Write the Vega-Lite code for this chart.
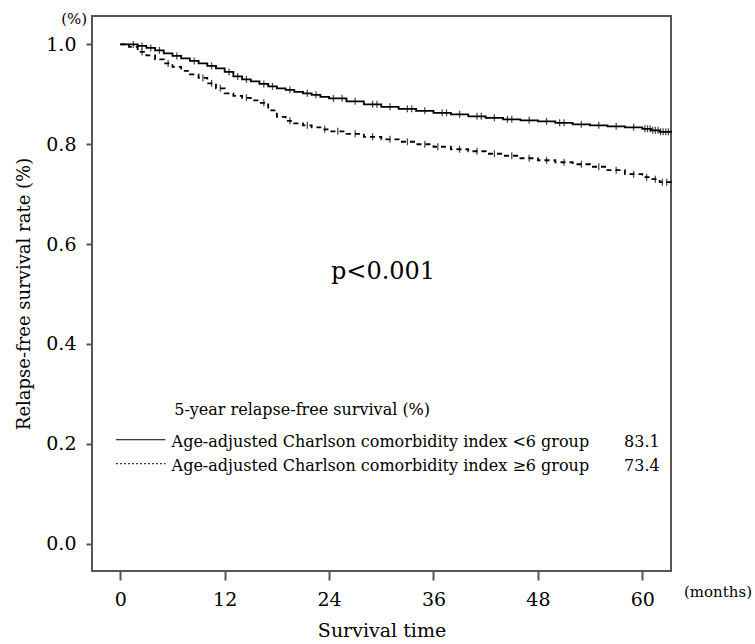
{
  "$schema": "https://vega.github.io/schema/vega-lite/v6.json",
  "width": 579,
  "height": 555,
  "autosize": "none",
  "padding": {"left": 92, "top": 16, "right": 84, "bottom": 73},
  "background": "white",
  "config": {
    "view": {"stroke": "#555555", "strokeWidth": 2},
    "font": "DejaVu Serif",
    "axis": {"grid": false, "domain": false, "tickColor": "#555555", "tickWidth": 2, "labelColor": "black", "titleColor": "black", "labelFont": "DejaVu Serif", "titleFont": "DejaVu Serif", "titleFontWeight": "normal"}
  },
  "datasets": {
    "curves": [
      {"group": "lt6", "month": 0, "rate": 1.0},
      {"group": "lt6", "month": 1, "rate": 1.0},
      {"group": "lt6", "month": 2, "rate": 0.997},
      {"group": "lt6", "month": 3, "rate": 0.993},
      {"group": "lt6", "month": 4, "rate": 0.988},
      {"group": "lt6", "month": 5, "rate": 0.982},
      {"group": "lt6", "month": 6, "rate": 0.977},
      {"group": "lt6", "month": 7, "rate": 0.972},
      {"group": "lt6", "month": 8, "rate": 0.967},
      {"group": "lt6", "month": 9, "rate": 0.962},
      {"group": "lt6", "month": 10, "rate": 0.957},
      {"group": "lt6", "month": 11, "rate": 0.952},
      {"group": "lt6", "month": 12, "rate": 0.945},
      {"group": "lt6", "month": 13, "rate": 0.936},
      {"group": "lt6", "month": 14, "rate": 0.930},
      {"group": "lt6", "month": 15, "rate": 0.926},
      {"group": "lt6", "month": 16, "rate": 0.921},
      {"group": "lt6", "month": 17, "rate": 0.916},
      {"group": "lt6", "month": 18, "rate": 0.912},
      {"group": "lt6", "month": 19, "rate": 0.909},
      {"group": "lt6", "month": 20, "rate": 0.905},
      {"group": "lt6", "month": 21, "rate": 0.902},
      {"group": "lt6", "month": 22, "rate": 0.899},
      {"group": "lt6", "month": 23, "rate": 0.895},
      {"group": "lt6", "month": 24, "rate": 0.892},
      {"group": "lt6", "month": 26, "rate": 0.886},
      {"group": "lt6", "month": 28, "rate": 0.880},
      {"group": "lt6", "month": 30, "rate": 0.875},
      {"group": "lt6", "month": 32, "rate": 0.871},
      {"group": "lt6", "month": 34, "rate": 0.867},
      {"group": "lt6", "month": 36, "rate": 0.863},
      {"group": "lt6", "month": 38, "rate": 0.860},
      {"group": "lt6", "month": 40, "rate": 0.856},
      {"group": "lt6", "month": 42, "rate": 0.853},
      {"group": "lt6", "month": 44, "rate": 0.850},
      {"group": "lt6", "month": 46, "rate": 0.848},
      {"group": "lt6", "month": 48, "rate": 0.846},
      {"group": "lt6", "month": 50, "rate": 0.843},
      {"group": "lt6", "month": 52, "rate": 0.840},
      {"group": "lt6", "month": 54, "rate": 0.838},
      {"group": "lt6", "month": 56, "rate": 0.836},
      {"group": "lt6", "month": 58, "rate": 0.834},
      {"group": "lt6", "month": 60, "rate": 0.831},
      {"group": "lt6", "month": 61, "rate": 0.828},
      {"group": "lt6", "month": 62, "rate": 0.825},
      {"group": "lt6", "month": 63.3, "rate": 0.823},
      {"group": "ge6", "month": 0, "rate": 1.0},
      {"group": "ge6", "month": 1, "rate": 0.995},
      {"group": "ge6", "month": 2, "rate": 0.985},
      {"group": "ge6", "month": 3, "rate": 0.978},
      {"group": "ge6", "month": 4, "rate": 0.970},
      {"group": "ge6", "month": 5, "rate": 0.962},
      {"group": "ge6", "month": 6, "rate": 0.955},
      {"group": "ge6", "month": 7, "rate": 0.947},
      {"group": "ge6", "month": 8, "rate": 0.940},
      {"group": "ge6", "month": 9, "rate": 0.933},
      {"group": "ge6", "month": 10, "rate": 0.922},
      {"group": "ge6", "month": 11, "rate": 0.912},
      {"group": "ge6", "month": 12, "rate": 0.902},
      {"group": "ge6", "month": 13, "rate": 0.897},
      {"group": "ge6", "month": 14, "rate": 0.893},
      {"group": "ge6", "month": 15, "rate": 0.888},
      {"group": "ge6", "month": 16, "rate": 0.883},
      {"group": "ge6", "month": 17, "rate": 0.868},
      {"group": "ge6", "month": 18, "rate": 0.855},
      {"group": "ge6", "month": 19, "rate": 0.847},
      {"group": "ge6", "month": 20, "rate": 0.842},
      {"group": "ge6", "month": 21, "rate": 0.838},
      {"group": "ge6", "month": 22, "rate": 0.834},
      {"group": "ge6", "month": 23, "rate": 0.830},
      {"group": "ge6", "month": 24, "rate": 0.826},
      {"group": "ge6", "month": 26, "rate": 0.821},
      {"group": "ge6", "month": 28, "rate": 0.815},
      {"group": "ge6", "month": 30, "rate": 0.810},
      {"group": "ge6", "month": 32, "rate": 0.805},
      {"group": "ge6", "month": 34, "rate": 0.800},
      {"group": "ge6", "month": 36, "rate": 0.795},
      {"group": "ge6", "month": 38, "rate": 0.790},
      {"group": "ge6", "month": 40, "rate": 0.786},
      {"group": "ge6", "month": 42, "rate": 0.781},
      {"group": "ge6", "month": 44, "rate": 0.777},
      {"group": "ge6", "month": 46, "rate": 0.772},
      {"group": "ge6", "month": 48, "rate": 0.768},
      {"group": "ge6", "month": 50, "rate": 0.764},
      {"group": "ge6", "month": 52, "rate": 0.760},
      {"group": "ge6", "month": 54, "rate": 0.755},
      {"group": "ge6", "month": 56, "rate": 0.748},
      {"group": "ge6", "month": 58, "rate": 0.740},
      {"group": "ge6", "month": 60, "rate": 0.734},
      {"group": "ge6", "month": 61, "rate": 0.730},
      {"group": "ge6", "month": 62, "rate": 0.724},
      {"group": "ge6", "month": 63.3, "rate": 0.715}
    ],
    "censor": [
      {"group": "lt6", "month": 1.5, "rate": 1.0},
      {"group": "lt6", "month": 2.5, "rate": 0.997},
      {"group": "lt6", "month": 3.5, "rate": 0.993},
      {"group": "lt6", "month": 4.5, "rate": 0.988},
      {"group": "lt6", "month": 6.5, "rate": 0.977},
      {"group": "lt6", "month": 8.5, "rate": 0.967},
      {"group": "lt6", "month": 10.5, "rate": 0.957},
      {"group": "lt6", "month": 12.5, "rate": 0.945},
      {"group": "lt6", "month": 13.5, "rate": 0.936},
      {"group": "lt6", "month": 14.5, "rate": 0.930},
      {"group": "lt6", "month": 16.5, "rate": 0.921},
      {"group": "lt6", "month": 17.5, "rate": 0.916},
      {"group": "lt6", "month": 19.5, "rate": 0.909},
      {"group": "lt6", "month": 21.5, "rate": 0.902},
      {"group": "lt6", "month": 22.5, "rate": 0.899},
      {"group": "lt6", "month": 24.5, "rate": 0.892},
      {"group": "lt6", "month": 25.5, "rate": 0.892},
      {"group": "lt6", "month": 27, "rate": 0.886},
      {"group": "lt6", "month": 29, "rate": 0.880},
      {"group": "lt6", "month": 29.5, "rate": 0.880},
      {"group": "lt6", "month": 31, "rate": 0.875},
      {"group": "lt6", "month": 33, "rate": 0.871},
      {"group": "lt6", "month": 33.5, "rate": 0.871},
      {"group": "lt6", "month": 35, "rate": 0.867},
      {"group": "lt6", "month": 37, "rate": 0.863},
      {"group": "lt6", "month": 37.5, "rate": 0.863},
      {"group": "lt6", "month": 39, "rate": 0.860},
      {"group": "lt6", "month": 41, "rate": 0.856},
      {"group": "lt6", "month": 41.5, "rate": 0.856},
      {"group": "lt6", "month": 43, "rate": 0.853},
      {"group": "lt6", "month": 44.5, "rate": 0.850},
      {"group": "lt6", "month": 45, "rate": 0.850},
      {"group": "lt6", "month": 47, "rate": 0.848},
      {"group": "lt6", "month": 49, "rate": 0.846},
      {"group": "lt6", "month": 50.5, "rate": 0.843},
      {"group": "lt6", "month": 51, "rate": 0.843},
      {"group": "lt6", "month": 53, "rate": 0.840},
      {"group": "lt6", "month": 55, "rate": 0.838},
      {"group": "lt6", "month": 57, "rate": 0.836},
      {"group": "lt6", "month": 59, "rate": 0.834},
      {"group": "lt6", "month": 60.3, "rate": 0.831},
      {"group": "lt6", "month": 60.6, "rate": 0.831},
      {"group": "lt6", "month": 60.9, "rate": 0.831},
      {"group": "lt6", "month": 61.2, "rate": 0.828},
      {"group": "lt6", "month": 61.5, "rate": 0.828},
      {"group": "lt6", "month": 61.8, "rate": 0.828},
      {"group": "lt6", "month": 62.1, "rate": 0.825},
      {"group": "lt6", "month": 62.4, "rate": 0.825},
      {"group": "lt6", "month": 62.7, "rate": 0.825},
      {"group": "lt6", "month": 63.0, "rate": 0.825},
      {"group": "ge6", "month": 2.5, "rate": 0.985},
      {"group": "ge6", "month": 5.5, "rate": 0.962},
      {"group": "ge6", "month": 9.5, "rate": 0.933},
      {"group": "ge6", "month": 10.5, "rate": 0.922},
      {"group": "ge6", "month": 11.5, "rate": 0.912},
      {"group": "ge6", "month": 14.5, "rate": 0.893},
      {"group": "ge6", "month": 16.5, "rate": 0.883},
      {"group": "ge6", "month": 19.5, "rate": 0.847},
      {"group": "ge6", "month": 21.5, "rate": 0.838},
      {"group": "ge6", "month": 23.5, "rate": 0.830},
      {"group": "ge6", "month": 25, "rate": 0.826},
      {"group": "ge6", "month": 27, "rate": 0.821},
      {"group": "ge6", "month": 29, "rate": 0.815},
      {"group": "ge6", "month": 31, "rate": 0.810},
      {"group": "ge6", "month": 33, "rate": 0.805},
      {"group": "ge6", "month": 35, "rate": 0.800},
      {"group": "ge6", "month": 36.5, "rate": 0.795},
      {"group": "ge6", "month": 39, "rate": 0.790},
      {"group": "ge6", "month": 41, "rate": 0.786},
      {"group": "ge6", "month": 43, "rate": 0.781},
      {"group": "ge6", "month": 45, "rate": 0.777},
      {"group": "ge6", "month": 47, "rate": 0.772},
      {"group": "ge6", "month": 49, "rate": 0.768},
      {"group": "ge6", "month": 51, "rate": 0.764},
      {"group": "ge6", "month": 53, "rate": 0.760},
      {"group": "ge6", "month": 55, "rate": 0.755},
      {"group": "ge6", "month": 57, "rate": 0.748},
      {"group": "ge6", "month": 59, "rate": 0.740},
      {"group": "ge6", "month": 60.5, "rate": 0.734},
      {"group": "ge6", "month": 61.5, "rate": 0.730},
      {"group": "ge6", "month": 62.3, "rate": 0.724},
      {"group": "ge6", "month": 62.8, "rate": 0.724}
    ],
    "pval": [{"month": 30.2, "rate": 0.545, "label": "p<0.001"}],
    "units": [
      {"month": -5.3, "rate": 1.051, "label": "(%)"},
      {"month": 68.7, "rate": -0.098, "label": "(months)"}
    ],
    "legendText": [
      {"month": 6.2, "rate": 0.267, "label": "5-year relapse-free survival (%)"},
      {"month": 5.9, "rate": 0.203, "label": "Age-adjusted Charlson comorbidity index <6 group"},
      {"month": 5.9, "rate": 0.155, "label": "Age-adjusted Charlson comorbidity index ≥6 group"}
    ],
    "legendValues": [
      {"month": 62.0, "rate": 0.203, "label": "83.1"},
      {"month": 62.0, "rate": 0.155, "label": "73.4"}
    ],
    "legendSolid": [{"x1": -0.5, "x2": 5.2, "rate": 0.208}],
    "legendDash": [{"x1": -0.5, "x2": 5.2, "rate": 0.160}]
  },
  "encoding": {
    "x": {"field": "month", "type": "quantitative", "scale": {"domain": [-3.25, 63.3], "nice": false, "zero": false},
      "axis": {"values": [0, 12, 24, 36, 48, 60], "tickSize": 9, "labelFontSize": 19, "labelPadding": 10, "title": "Survival time", "titleFontSize": 19, "titlePadding": 12}},
    "y": {"field": "rate", "type": "quantitative", "scale": {"domain": [-0.055, 1.057], "nice": false, "zero": false},
      "axis": {"values": [0, 0.2, 0.4, 0.6, 0.8, 1.0], "format": ".1f", "tickSize": 6, "labelFontSize": 19, "labelPadding": 10, "title": "Relapse-free survival rate (%)", "titleFontSize": 18, "titlePadding": 12}}
  },
  "layer": [
    {
      "data": {"name": "curves"},
      "mark": {"type": "line", "interpolate": "step-after", "color": "black", "strokeWidth": 1.8},
      "encoding": {
        "detail": {"field": "group"},
        "strokeDash": {"field": "group", "type": "nominal", "scale": {"domain": ["lt6", "ge6"], "range": [[1, 0], [5, 4]]}, "legend": null}
      }
    },
    {
      "data": {"name": "censor"},
      "mark": {"type": "tick", "orient": "vertical", "size": 7, "thickness": 1.3, "color": "black"}
    },
    {
      "data": {"name": "pval"},
      "mark": {"type": "text", "fontSize": 24, "align": "center", "baseline": "middle", "color": "black", "font": "DejaVu Serif"},
      "encoding": {"text": {"field": "label"}}
    },
    {
      "data": {"name": "units"},
      "mark": {"type": "text", "fontSize": 15, "align": "center", "baseline": "middle", "color": "black", "font": "DejaVu Serif"},
      "encoding": {"text": {"field": "label"}}
    },
    {
      "data": {"name": "legendText"},
      "mark": {"type": "text", "fontSize": 16, "align": "left", "baseline": "middle", "color": "black", "font": "DejaVu Serif"},
      "encoding": {"text": {"field": "label"}}
    },
    {
      "data": {"name": "legendValues"},
      "mark": {"type": "text", "fontSize": 16, "align": "right", "baseline": "middle", "color": "black", "font": "DejaVu Serif"},
      "encoding": {"text": {"field": "label"}}
    },
    {
      "data": {"name": "legendSolid"},
      "mark": {"type": "rule", "color": "black", "strokeWidth": 1},
      "encoding": {"x": {"field": "x1", "type": "quantitative"}, "x2": {"field": "x2"}}
    },
    {
      "data": {"name": "legendDash"},
      "mark": {"type": "rule", "color": "black", "strokeWidth": 1, "strokeDash": [2, 2]},
      "encoding": {"x": {"field": "x1", "type": "quantitative"}, "x2": {"field": "x2"}}
    }
  ]
}
